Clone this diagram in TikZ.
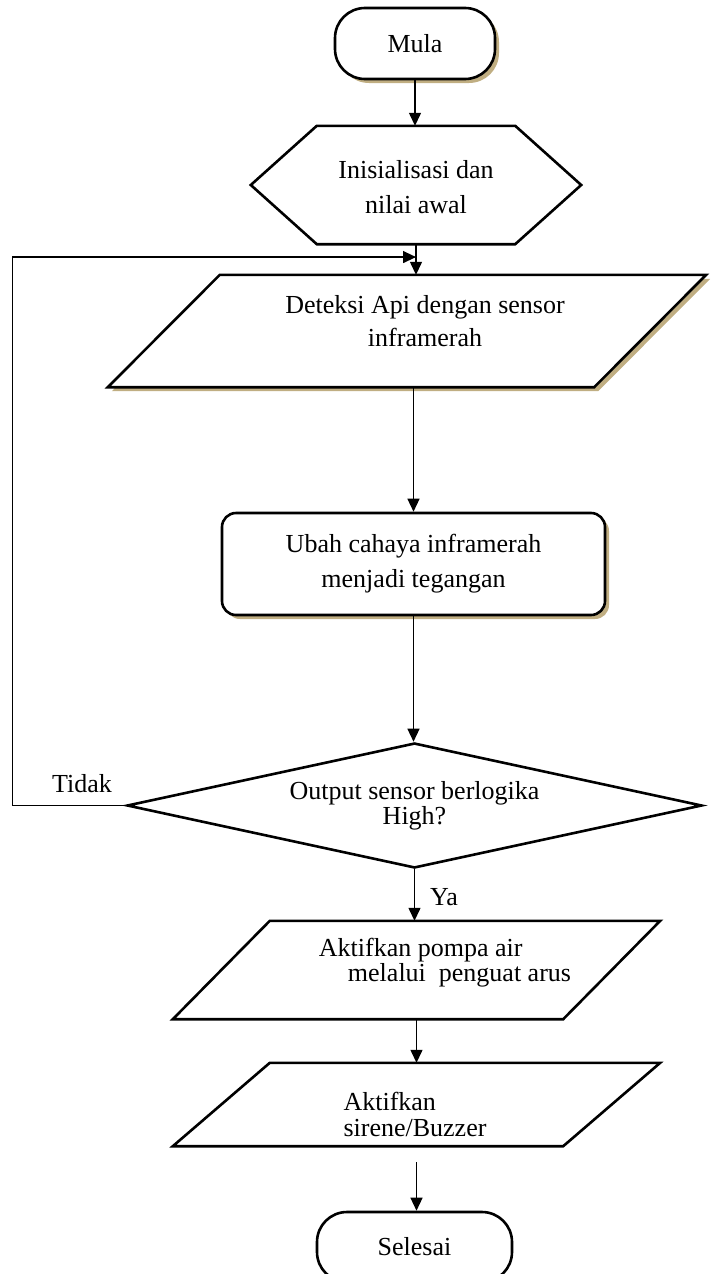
\documentclass[tikz,border=0pt]{standalone}
\usepackage{fontspec}
\setmainfont{Liberation Serif}
\usetikzlibrary{shapes.geometric,shadows,arrows.meta,calc}
\definecolor{bayangan}{RGB}{192,174,130}

\begin{document}
\begin{tikzpicture}[x=1pt, y=-1pt,
		teks/.style={font=\fontsize{26}{30}\selectfont, align=center, inner sep=0pt},
		garis/.style={draw, line width=2.6pt, fill=white},
		kotak/.style={teks, garis},
		bayang/.style={drop shadow={shadow xshift=4pt, shadow yshift=-4pt, fill=bayangan, opacity=1}},
		terminal/.style={kotak, rectangle, rounded corners=30pt, minimum height=71pt},
		proses/.style={kotak, rectangle, rounded corners=14pt},
		bingkai/.style={rectangle, inner sep=0pt},
		keputusan/.style={kotak, diamond, aspect=4.6},
		panah/.style={-{Triangle[length=13pt,width=12pt]}, line width=1.3pt}]
		\useasboundingbox (0,0) rectangle (711,1274);
		% bentuk
		\node[terminal, bayang, minimum width=160pt] (mula) at (415,43.5) {Mula};
		\node[bingkai, minimum width=330pt, minimum height=118pt] (init) at (416,185) {};
		\draw[garis] (init.west) -- ([xshift=66pt]init.north west) -- ([xshift=-66pt]init.north east)
			-- (init.east) -- ([xshift=-66pt]init.south east) -- ([xshift=66pt]init.south west) -- cycle;
		\node[teks, font=\fontsize{26}{35}\selectfont] (init-t) at ([yshift=-2pt]init.center) {Inisialisasi dan\\nilai awal};
		\node[bingkai, minimum width=598pt, minimum height=112pt] (deteksi) at (407,331) {};
		\draw[garis, bayang] ([xshift=112pt]deteksi.north west) -- (deteksi.north east)
			-- ([xshift=-112pt]deteksi.south east) -- (deteksi.south west) -- cycle;
		\node[teks, font=\fontsize{26}{33}\selectfont] (deteksi-t) at ([xshift=18pt,yshift=9.5pt]deteksi.center) {Deteksi Api dengan sensor\\inframerah};
		\node[proses, bayang, minimum width=383pt, minimum height=102pt, font=\fontsize{26}{35}\selectfont] (ubah) at (413.5,564) {Ubah cahaya inframerah\\menjadi tegangan};
		\node[keputusan, minimum width=575pt, minimum height=125pt, font=\fontsize{26}{23}\selectfont] (cek) at (414.5,805.5) {Output sensor berlogika\\High?};
		\node[bingkai, minimum width=487pt, minimum height=98pt] (pompa) at (416.5,970) {};
		\draw[garis] ([xshift=97pt]pompa.north west) -- (pompa.north east)
			-- ([xshift=-97pt]pompa.south east) -- (pompa.south west) -- cycle;
		\node[teks, align=left, font=\fontsize{26}{25}\selectfont] (pompa-t) at ([xshift=28.5pt,yshift=7.5pt]pompa.center) {Aktifkan pompa air\\\hspace*{29pt}melalui\ \ penguat arus};
		\node[bingkai, minimum width=487pt, minimum height=83pt] (buzzer) at (416.5,1104.5) {};
		\draw[garis] ([xshift=97pt]buzzer.north west) -- (buzzer.north east)
			-- ([xshift=-97pt]buzzer.south east) -- (buzzer.south west) -- cycle;
		\node[teks, align=left, font=\fontsize{26}{26}\selectfont] (buzzer-t) at ([xshift=-1.5pt,yshift=-10pt]buzzer.center) {Aktifkan\\sirene/Buzzer};
		\node[terminal, minimum width=195pt, minimum height=70pt] (selesai) at (414.5,1247) {Selesai};
		\node[teks] (tidak) at (82,784) {Tidak};
		\node[teks] (ya) at (444,897) {Ya};
		% alur
		\coordinate (masuk) at ($(init.south)!0.42!(init.south |- deteksi.north)$);
		\draw[panah] (mula.south) -- (mula.south |- init.north);
		\draw[panah] (init.south) -- (init.south |- deteksi.north);
		\draw[panah] (ubah.north |- deteksi.south) -- (ubah.north);
		\draw[panah] (ubah.south) -- (ubah.south |- cek.north);
		\draw[panah] (cek.south) -- (cek.south |- pompa.north);
		\draw[panah] (pompa.south) -- (pompa.south |- buzzer.north);
		\draw[panah, shorten <=16pt] (buzzer.south) -- (buzzer.south |- selesai.north);
		\draw[panah] (cek.west) -- ++(-113,0) |- (masuk);
	\end{tikzpicture}
\end{document}
